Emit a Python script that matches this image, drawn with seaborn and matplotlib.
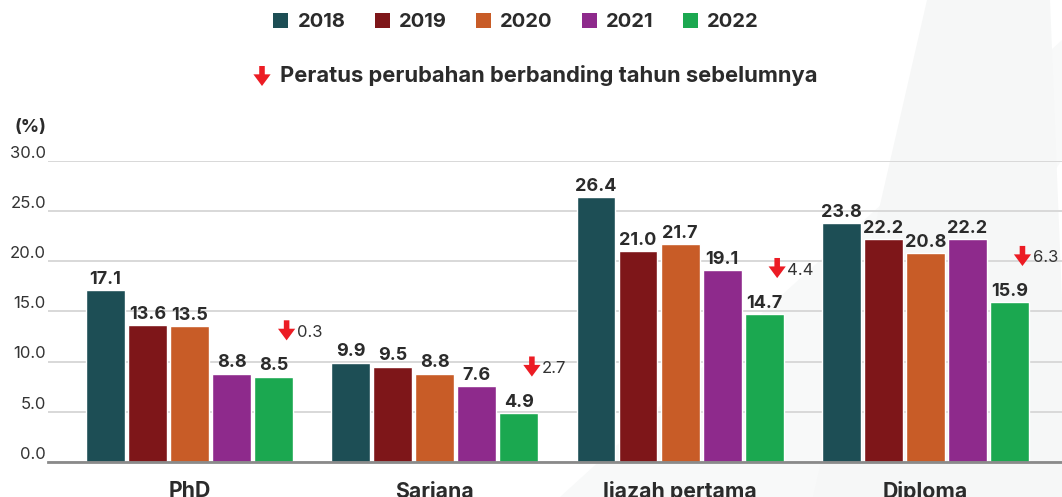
import numpy as np
import pandas as pd
import matplotlib
matplotlib.use("Agg")
import matplotlib.pyplot as plt
from matplotlib.patches import Patch, Polygon
import seaborn as sns

# Data
kategori = ["PhD", "Sarjana", "Ijazah pertama", "Diploma"]
tahun = ["2018", "2019", "2020", "2021", "2022"]
nilai_2018 = [17.1, 9.9, 26.4, 23.8]
nilai_2019 = [13.6, 9.5, 21.0, 22.2]
nilai_2020 = [13.5, 8.8, 21.7, 20.8]
nilai_2021 = [8.8, 7.6, 19.1, 22.2]
nilai_2022 = [8.5, 4.9, 14.7, 15.9]
perubahan = [0.3, 2.7, 4.4, 6.3]
yticks = [0, 5, 10, 15, 20, 25, 30]

warna = ["#1d4e55", "#7e1619", "#c85c27", "#8e2a8c", "#1ba850"]
teks = "#2b2b2b"
merah = "#ec1c24"

siri = [nilai_2018, nilai_2019, nilai_2020, nilai_2021, nilai_2022]
df = pd.DataFrame({
    "kategori": np.repeat([kategori], len(tahun), axis=0).ravel(),
    "tahun": np.repeat(tahun, len(kategori)),
    "nilai": np.concatenate(siri),
})

sns.set_theme(style="white")
plt.rcParams["font.family"] = ["Inter", "DejaVu Sans"]

W, H = 1062, 497
fig = plt.figure(figsize=(W / 100, H / 100), dpi=100)
fig.patch.set_facecolor("white")

# faint diagonal bands in the background
for pts, c in [
    ([(560, 497), (830, 497), (1062, 160), (1062, 40)], "#f8f9f9"),
    ([(813, 497), (1062, 497), (1062, 300), (1050, 0), (927, 0)], "#f6f7f7"),
]:
    fig.patches.append(Polygon([(x / W, 1 - y / H) for x, y in pts],
                               closed=True, transform=fig.transFigure,
                               facecolor=c, edgecolor="none", zorder=-10))

ax = fig.add_axes([48 / W, 35 / H, (W - 48) / W, (462 - 160.5) / H])
ax.patch.set_alpha(0)

sns.barplot(data=df, x="kategori", y="nilai", hue="tahun", order=kategori,
            hue_order=tahun, palette=warna, saturation=1, width=0.857,
            gap=0.075, legend=False, ax=ax, zorder=3)

ax.set_ylim(0, 30)
ax.set_xlim(-0.577, 3.557)
ax.set_yticks(yticks)
ax.set_yticklabels([f"{v:.1f}" for v in yticks], fontsize=12, color="#333333")
for lab in ax.get_yticklabels():
    lab.set_verticalalignment("bottom")
ax.tick_params(axis="y", length=0, pad=1.5)
ax.tick_params(axis="x", length=0, pad=13.5)
for lab in ax.get_xticklabels():
    lab.set_fontsize(15.3)
    lab.set_fontweight("bold")
    lab.set_color(teks)
ax.set_xlabel("")
ax.set_ylabel("")
ax.yaxis.grid(True, color="#d6d6d6", linewidth=1.3, zorder=0)
ax.xaxis.grid(False)
for s in ["top", "right", "left"]:
    ax.spines[s].set_visible(False)
ax.spines["bottom"].set_color("#8a8a8a")
ax.spines["bottom"].set_linewidth(2)
ax.spines["bottom"].set_zorder(4)

for cont in ax.containers:
    ax.bar_label(cont, fmt="%.1f", padding=1.5, fontsize=13, fontweight="bold",
                 color=teks)

gaya_anak_panah = dict(arrowstyle="simple,head_length=0.42,head_width=0.62,tail_width=0.2",
                       color=merah, shrinkA=0, shrinkB=0, mutation_scale=20, lw=0)

# change vs previous year, placed beside the 2022 bar
hijau = ax.containers[-1]
for bar, v, d in zip(hijau, nilai_2022, perubahan):
    xc = bar.get_x() + bar.get_width() / 2
    xa = xc + 0.053
    ax.annotate("", xy=(xa, v + 3.6), xytext=(xa, v + 5.6),
                arrowprops=gaya_anak_panah, annotation_clip=False)
    ax.text(xc + 0.095, v + 4.4, f"{d:.1f}", ha="left", va="center",
            fontsize=12, color="#333333")

fig.text(15 / W, 1 - 128 / H, "(%)", ha="left", va="center", fontsize=13,
         fontweight="bold", color=teks)

handles = [Patch(facecolor=c, edgecolor="none") for c in warna]
leg = fig.legend(handles, tahun, loc="center", bbox_to_anchor=(516 / W, 1 - 22 / H),
                 ncol=5, frameon=False, handlelength=0.75, handleheight=0.75,
                 handletextpad=0.45, columnspacing=1.45,
                 prop={"size": 14.5, "weight": "bold"})
for t in leg.get_texts():
    t.set_color(teks)

fig.add_artist(plt.matplotlib.text.Annotation(
    "", xy=(262 / W, 1 - 86 / H), xytext=(262 / W, 1 - 66 / H),
    xycoords="figure fraction", textcoords="figure fraction",
    arrowprops=gaya_anak_panah))
fig.text(280 / W, 1 - 76 / H, "Peratus perubahan berbanding tahun sebelumnya",
         ha="left", va="center", fontsize=15.8, fontweight="bold", color=teks)

fig.savefig("out.png", dpi=100, facecolor="white")
